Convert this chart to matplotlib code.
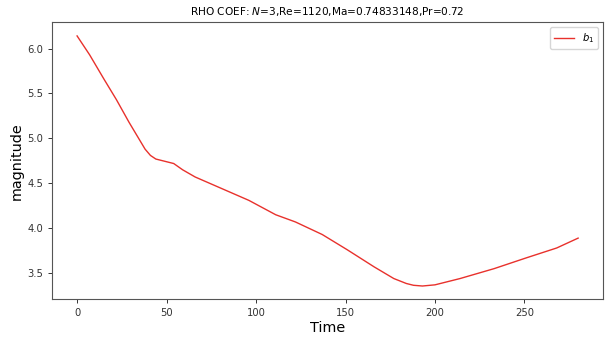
import matplotlib
matplotlib.use('Agg')
import matplotlib.pyplot as plt

# values
time = [0, 7, 15, 22, 29, 35, 38, 41, 44, 47, 50, 54, 59, 66, 81, 96, 111, 122,
        137, 151, 166, 177, 184, 188, 193, 200, 214, 233, 251, 268, 280]
b1 = [6.14, 5.93, 5.66, 5.43, 5.18, 4.98, 4.88, 4.81, 4.77, 4.755, 4.74, 4.72,
      4.65, 4.57, 4.44, 4.31, 4.15, 4.07, 3.93, 3.76, 3.57, 3.44, 3.385, 3.365,
      3.357, 3.37, 3.44, 3.55, 3.67, 3.78, 3.89]

title = 'RHO COEF: $N$=3,Re=1120,Ma=0.74833148,Pr=0.72'

fig = plt.figure(figsize=(6.05, 3.4), dpi=100)
ax = fig.add_axes([0.086, 0.121, 0.911, 0.813])

ax.plot(time, b1, color='#e8312c', linewidth=1.0, label='$b_1$')

ax.set_xlim(-14, 294)
ax.set_ylim(3.214, 6.29)
ax.set_xticks([0, 50, 100, 150, 200, 250])
ax.set_yticks([3.5, 4.0, 4.5, 5.0, 5.5, 6.0])
ax.tick_params(labelsize=7.2, length=3, width=0.7, colors='#333333')
for s in ax.spines.values():
    s.set_linewidth(0.8)
    s.set_color('#555555')

ax.set_title(title, fontsize=7.6, pad=5)
ax.set_xlabel('Time', fontsize=10.4, labelpad=2)
ax.set_ylabel('magnitude', fontsize=10.4, labelpad=2)
ax.legend(loc='upper right', fontsize=7.2)

fig.savefig('out.png', dpi=100)
